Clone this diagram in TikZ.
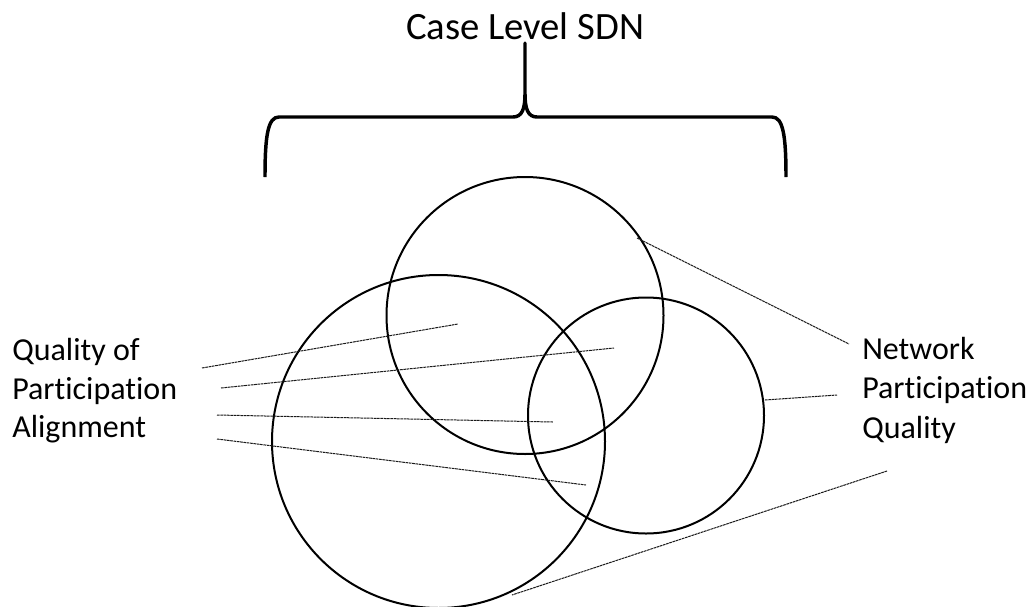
\documentclass[tikz,border=0pt]{standalone}
\usepackage{fontspec}
\setmainfont{Carlito}[Ligatures=NoCommon]
\begin{document}
\begin{tikzpicture}[x=0.75pt,y=-0.75pt,
  ring/.style={circle,draw,line width=1.5pt,inner sep=0pt,outer sep=0pt},
  leader/.style={line width=0.75pt,dash pattern=on 2pt off 0.5pt,black!90},
  bracket/.style={line width=2.6pt,line join=round},
  lbl/.style={anchor=base west,inner sep=0pt,font=\fontsize{24}{29}\selectfont}]
\useasboundingbox (0,0) rectangle (1032,607);

% title and brace
\node[anchor=base,inner sep=0pt,font=\fontsize{29}{35}\selectfont] (title) at (525,39) {Case Level SDN};
\coordinate (bl) at (265,177);
\coordinate (br) at (786,177);
\coordinate (tip) at (525,43);
\draw[bracket] (bl) .. controls (265,135) and (268,117) .. (279,117)
  -- (513,117) .. controls (522,117) and (525,109) .. (525,94) -- (tip)
  -- (525,94) .. controls (525,109) and (528,117) .. (537,117)
  -- (772,117) .. controls (783,117) and (786,135) .. (br);

% three overlapping circles
\node[ring,minimum size=207.75pt] (top) at (525,315.5) {};
\node[ring,minimum size=249.75pt] (big) at (438.5,441.5) {};
\node[ring,minimum size=177pt] (small) at (646,415.5) {};

% left labels
\node[lbl] (qa1) at (12,360) {Quality of};
\node[lbl] (qa2) at (12,399) {Participation};
\node[lbl] (qa3) at (12,437) {Alignment};

% right labels
\node[lbl] (np1) at (862,359) {Network};
\node[lbl] (np2) at (862,398) {Participation};
\node[lbl] (np3) at (862,438) {Quality};

% leader line end points
\coordinate (a1) at (202,368);
\coordinate (a2) at (221,388);
\coordinate (a3) at (217,415);
\coordinate (a4) at (217,439);
\coordinate (t1) at (458,324);
\coordinate (t2) at (614,348);
\coordinate (t3) at (553,422);
\coordinate (t4) at (586,485);
\coordinate (b1) at (849,344);
\coordinate (b2) at (837,395);
\coordinate (b3) at (887,471);
\coordinate (s1) at (637,238);
\coordinate (s2) at (765,400);
\coordinate (s3) at (512,595);

\draw[leader] (a1) -- (t1);
\draw[leader] (a2) -- (t2);
\draw[leader] (a3) -- (t3);
\draw[leader] (a4) -- (t4);
\draw[leader] (s1) -- (b1);
\draw[leader] (s2) -- (b2);
\draw[leader] (b3) -- (s3);
\end{tikzpicture}
\end{document}
